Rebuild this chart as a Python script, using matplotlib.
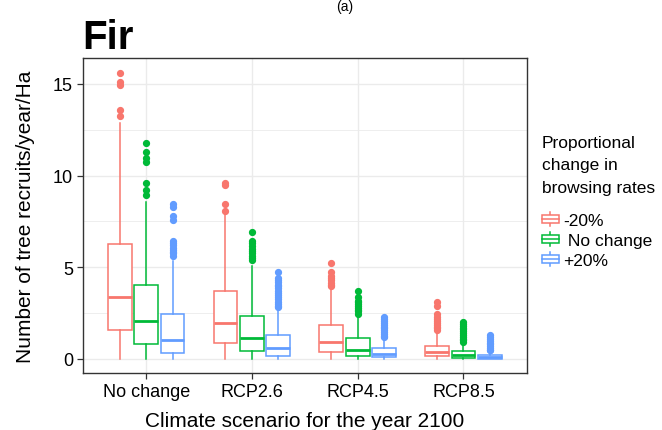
import numpy as np
import matplotlib
matplotlib.use("Agg")
import matplotlib.pyplot as plt
from matplotlib.patches import Rectangle, Patch
from matplotlib.lines import Line2D
from matplotlib.legend_handler import HandlerBase

plt.rcParams['font.family'] = ['Liberation Sans', 'DejaVu Sans']

###############################################################################
# Data

scenarios = ["No change", "RCP2.6", "RCP4.5", "RCP8.5"]
groups = ["-20%", " No change", "+20%"]
colors = ["#F8766D", "#00BA38", "#619CFF"]

# per group: one value per scenario
q1 = {
    "-20%": [1.58, 0.85, 0.35, 0.13],
    " No change": [0.78, 0.42, 0.17, 0.05],
    "+20%": [0.33, 0.17, 0.07, 0.01],
}
median = {
    "-20%": [3.37, 1.96, 0.90, 0.38],
    " No change": [2.07, 1.14, 0.50, 0.18],
    "+20%": [1.01, 0.58, 0.25, 0.09],
}
q3 = {
    "-20%": [6.25, 3.70, 1.83, 0.72],
    " No change": [4.02, 2.34, 1.11, 0.41],
    "+20%": [2.43, 1.27, 0.58, 0.18],
}
whisker_low = {
    "-20%": [0.0, 0.0, 0.0, 0.0],
    " No change": [0.0, 0.0, 0.0, 0.0],
    "+20%": [0.0, 0.0, 0.0, 0.0],
}
whisker_high = {
    "-20%": [12.86, 7.88, 3.95, 1.45],
    " No change": [8.55, 5.07, 2.39, 0.82],
    "+20%": [5.34, 2.72, 1.12, 0.42],
}
outliers = {
    "-20%": [
        [15.62, 15.13, 14.95, 13.59, 13.24],
        [9.60, 9.46, 8.42, 8.06],
        [5.25, 4.71, 4.53, 4.40, 4.28, 4.15, 4.05, 3.98],
        [3.08, 2.90, 2.45, 2.26, 2.15, 2.05, 1.95, 1.85, 1.75, 1.65, 1.54],
    ],
    " No change": [
        [11.78, 11.29, 10.96, 10.72, 9.60, 9.22, 8.91],
        [6.94, 6.43, 6.30, 6.15, 6.00, 5.90, 5.78, 5.62, 5.50, 5.38],
        [3.68, 3.35, 3.17, 3.08, 2.98, 2.88, 2.78, 2.68, 2.58, 2.45],
        [2.03, 1.90, 1.80, 1.70, 1.60, 1.50, 1.40, 1.30, 1.20, 1.10, 1.00, 0.90],
    ],
    "+20%": [
        [8.42, 8.30, 7.79, 7.57, 6.43, 6.30, 6.18, 6.05, 5.95, 5.85, 5.75, 5.62],
        [4.75, 4.43, 4.30, 4.18, 4.05, 3.95, 3.85, 3.72, 3.60, 3.50, 3.38,
         3.25, 3.12, 3.00, 2.90, 2.81],
        [2.26, 2.15, 2.05, 1.95, 1.85, 1.75, 1.65, 1.55, 1.45, 1.35, 1.25, 1.18],
        [1.27, 1.18, 1.08, 0.98, 0.88, 0.78, 0.68, 0.58, 0.50, 0.45],
    ],
}

yticks = [0, 5, 10, 15]


###############################################################################
# Legend key that looks like a ggplot boxplot glyph
class BoxKeyHandler(HandlerBase):
    def create_artists(self, legend, orig_handle, xdescent, ydescent,
                       width, height, fontsize, trans):
        c = orig_handle.get_edgecolor()
        x0, y0 = -xdescent, -ydescent
        h = height
        box = Rectangle((x0, y0 + 0.23 * h), width, 0.54 * h, facecolor="white",
                        edgecolor=c, linewidth=1.1, transform=trans)
        mid = Line2D([x0, x0 + width], [y0 + 0.5 * h] * 2, color=c, lw=1.1,
                     transform=trans)
        lo = Line2D([x0 + width / 2] * 2, [y0 + 0.06 * h, y0 + 0.23 * h],
                    color=c, lw=1.1, transform=trans)
        hi = Line2D([x0 + width / 2] * 2, [y0 + 0.77 * h, y0 + 0.94 * h],
                    color=c, lw=1.1, transform=trans)
        return [lo, hi, box, mid]


###############################################################################
# Plot

fig = plt.figure(figsize=(6.62, 4.31), dpi=100)
ax = fig.add_axes([0.1249, 0.1323, 0.796 - 0.1249, 0.8624 - 0.1323])

offsets = [-0.25, 0.0, 0.25]
for g, (grp, col) in enumerate(zip(groups, colors)):
    stats = []
    for i in range(len(scenarios)):
        stats.append(dict(
            med=median[grp][i], q1=q1[grp][i], q3=q3[grp][i],
            whislo=whisker_low[grp][i], whishi=whisker_high[grp][i],
            fliers=outliers[grp][i],
        ))
    pos = [i + 1 + offsets[g] for i in range(len(scenarios))]
    ax.bxp(
        stats, positions=pos, widths=0.225, patch_artist=True, showcaps=False,
        boxprops=dict(facecolor="white", edgecolor=col, linewidth=1.1),
        medianprops=dict(color=col, linewidth=2.0),
        whiskerprops=dict(color=col, linewidth=1.1),
        flierprops=dict(marker="o", markerfacecolor=col, markeredgecolor=col,
                        markersize=4.2, linestyle="none"),
        manage_ticks=False,
    )

# Axes look (ggplot theme_bw style)
ax.set_xlim(0.4, 4.6)
ax.set_ylim(-0.78, 16.4)
ax.set_xticks(range(1, len(scenarios) + 1))
ax.set_xticklabels(scenarios)
ax.set_yticks(yticks)
ax.set_yticks([2.5, 7.5, 12.5], minor=True)
ax.set_axisbelow(True)
ax.grid(which="major", color="#EBEBEB", linewidth=1.0)
ax.grid(which="minor", axis="y", color="#EBEBEB", linewidth=0.6)
for s in ax.spines.values():
    s.set_color("#333333")
    s.set_linewidth(1.0)
ax.tick_params(axis="both", which="major", length=4.5, width=0.9,
               color="#333333", labelsize=13, labelcolor="black", pad=2.5)
ax.tick_params(which="minor", length=0)

ax.set_xlabel("Climate scenario for the year 2100", fontsize=15, labelpad=8)
ax.set_ylabel("Number of tree recruits/year/Ha", fontsize=15, labelpad=12.5)

# Title and panel tag
fig.text(0.1249, 1 - 49 / 431, "Fir", fontsize=29, fontweight="bold",
         ha="left", va="baseline")
fig.text(345 / 662, 1.0, "(a)", fontsize=10, ha="center", va="top")

# Legend: title drawn as text, entries as a legend below it
fig.text(541.7 / 662, 1 - 136 / 431, "Proportional\nchange in\nbrowsing rates",
         fontsize=12.5, ha="left", va="top", linespacing=1.62)
handles = [Patch(edgecolor=c, facecolor="white") for c in colors]
leg = ax.legend(
    handles, groups, handler_map={Patch: BoxKeyHandler()},
    loc="upper left", bbox_to_anchor=(541.7 / 662, 1 - 212 / 431),
    bbox_transform=fig.transFigure, frameon=False, fontsize=12.5,
    handlelength=1.0, handleheight=1.0, handletextpad=0.25,
    labelspacing=0.2, borderpad=0.0, borderaxespad=0.0,
)

fig.savefig("out.png", dpi=100)
